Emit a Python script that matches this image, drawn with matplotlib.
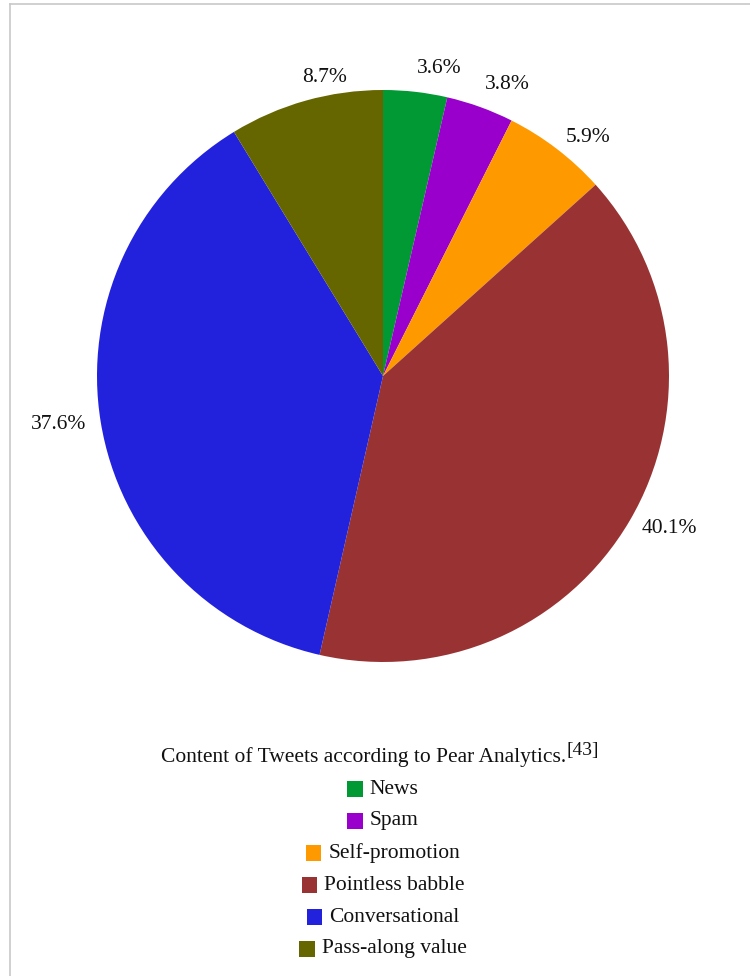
import matplotlib
matplotlib.use("Agg")
from matplotlib import pyplot as plt
from matplotlib.lines import Line2D
from matplotlib.patches import Rectangle
from matplotlib.offsetbox import DrawingArea, TextArea, HPacker, AnnotationBbox

categories = ["News", "Spam", "Self-promotion", "Pointless babble",
              "Conversational", "Pass-along value"]
shares = [3.6, 3.8, 5.9, 40.1, 37.6, 8.7]
colors = ["#009933", "#9900cc", "#ff9900", "#993333", "#2222dd", "#666600"]
title = "Content of Tweets according to Pear Analytics."
ref_mark = "[43]"

plt.rcParams["font.family"] = ["Liberation Serif", "DejaVu Serif"]
FS = 15.5

fig = plt.figure(figsize=(7.5, 9.76), dpi=100)

# frame lines (left and top) like the source page
fig.add_artist(Line2D([10 / 750, 10 / 750], [0, 1 - 4 / 976],
                      transform=fig.transFigure, color="#c8c8c8", lw=1.2))
fig.add_artist(Line2D([10 / 750, 1], [1 - 4 / 976, 1 - 4 / 976],
                      transform=fig.transFigure, color="#c8c8c8", lw=1.2))

# pie axes: centre (383, 376) px, radius 286 px
cx, cy, r = 383, 376, 286
ax = fig.add_axes([(cx - r) / 750, (976 - cy - r) / 976, 2 * r / 750, 2 * r / 976])
wedges, texts = ax.pie(shares, colors=colors, startangle=90, counterclock=False,
                       labels=[f"{v}%" for v in shares], labeldistance=1.05,
                       textprops={"fontsize": FS, "color": "#111111"},
                       wedgeprops={"linewidth": 0})
# labels near the top sit above-right of their anchor
for txt in texts:
    x, y = txt.get_position()
    if abs(x) < 0.36 and y > 0:
        txt.set_ha("left")
        txt.set_va("bottom")
ax.set_xlim(-1, 1)
ax.set_ylim(-1, 1)
ax.set_aspect("equal")
ax.axis("off")

# caption with superscript reference
t = fig.text(364 / 750, 1 - 757 / 976, title, ha="center", va="center",
             fontsize=FS, color="#111111")
ax.annotate(ref_mark, xy=(1, 0.4), xycoords=t, ha="left", va="bottom",
            fontsize=14, color="#111111", annotation_clip=False)

# centred legend rows
for i, (name, col) in enumerate(zip(categories, colors)):
    da = DrawingArea(11, 11, 0, 0)
    da.add_artist(Rectangle((0, 0), 11, 11, facecolor=col, edgecolor="none"))
    ta = TextArea(name, textprops={"fontsize": FS, "color": "#111111"})
    box = HPacker(children=[da, ta], align="center", pad=0, sep=5)
    y = 1 - (789 + 32 * i) / 976
    ab = AnnotationBbox(box, (383 / 750, y), xycoords="figure fraction",
                        box_alignment=(0.5, 0.5), frameon=False, pad=0)
    fig.add_artist(ab)

fig.savefig("out.png", dpi=100)
